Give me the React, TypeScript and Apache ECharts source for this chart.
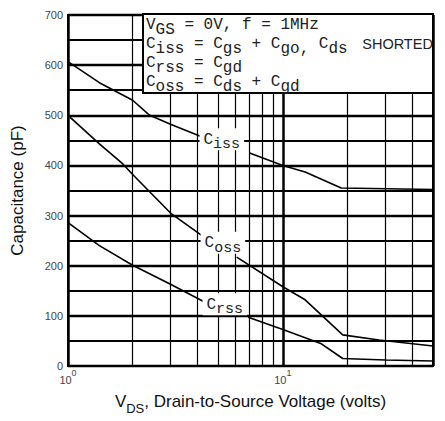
import React, { useEffect, useRef } from "react";
import * as echarts from "echarts";

// Curves (VDS volts, capacitance pF); each curve is split where its label sits
const CISS_A = [[1, 607], [1.4, 565], [2, 530], [2.4, 500], [3, 482], [4.3, 455]];
const CISS_B = [[7, 425], [10, 400], [12.7, 387], [18.7, 355], [50, 352]];
const COSS_A = [[1, 500], [1.4, 443], [1.8, 403], [2, 382], [3, 305], [4.3, 257]];
const COSS_B = [[6.1, 217], [10, 158], [12.7, 132], [19, 62], [28, 52], [50, 40]];
const CRSS_A = [[1, 286], [1.4, 240], [2, 201], [3, 163], [4.3, 128]];
const CRSS_B = [[6.9, 97], [10, 73], [15, 45], [19, 15], [30, 12], [50, 10]];

const MINOR_X = [2, 3, 4, 5, 6, 7, 8, 9, 20, 30, 40];
const Y_MIN = 0, Y_MAX = 700, Y_STEP = 100;
const X_MIN = 1, X_MAX = 50;

const LABELS = [
  { sub: "iss", x: 5.2, y: 452 },
  { sub: "oss", x: 5.26, y: 246 },
  { sub: "rss", x: 5.37, y: 123 },
];

const NOTE_LINES = [
  "{c|V}{s|GS}{c| = 0V, f = 1MHz}",
  "{c|C}{s|iss}{c| = C}{s|gs}{c| + C}{s|go,}{c| C}{s|ds}{c| }{t|SHORTED}",
  "{c|C}{s|rss}{c| = C}{s|gd}",
  "{c|C}{s|oss}{c| = C}{s|ds}{c| + C}{s|gd}",
];

const MONO = "'Liberation Mono', 'DejaVu Sans Mono', monospace";
const SANS = "'Liberation Sans', Arial, sans-serif";

export default function App() {
  const ref = useRef<HTMLDivElement>(null);
  useEffect(() => {
    const chart = echarts.init(ref.current!, null, { renderer: "svg" });
    const lineStyle = { color: "#000", width: 1.6 };
    const seg = (data: number[][], extra: any = {}) => ({
      type: "line",
      data,
      symbol: "none",
      lineStyle,
      silent: true,
      z: 3,
      ...extra,
    });
    chart.setOption({
      animation: false,
      backgroundColor: "#fff",
      grid: {
        left: 68, right: 12, top: 15, bottom: 55,
        show: true, borderColor: "#000", borderWidth: 2,
      },
      xAxis: {
        type: "log", logBase: 10, min: X_MIN, max: X_MAX,
        axisLine: { show: true, lineStyle: { color: "#000", width: 2 } },
        axisTick: { show: false },
        splitLine: { show: true, lineStyle: { color: "#000", width: 2.5 } },
        axisLabel: {
          margin: 3,
          formatter: (v: number) => {
            const e = Math.log10(v);
            if (Math.abs(e - Math.round(e)) > 1e-6) return "";
            return `{b|10}{p|${Math.round(e)}}`;
          },
          rich: {
            b: { fontSize: 11, fontFamily: SANS, color: "#444", lineHeight: 16, verticalAlign: "bottom", height: 10 },
            p: { fontSize: 9, fontFamily: SANS, color: "#444", verticalAlign: "top", height: 8 },
          },
        },
        name: "{m|V}{s|DS}{m|, Drain-to-Source Voltage (volts)}",
        nameLocation: "middle",
        nameGap: 24,
        nameTextStyle: {
          rich: {
            m: { fontSize: 17, fontFamily: SANS, color: "#111", lineHeight: 22, verticalAlign: "middle" },
            s: { fontSize: 13, fontFamily: SANS, color: "#111", height: 8, verticalAlign: "bottom" },
          },
        },
      },
      yAxis: {
        type: "value", min: Y_MIN, max: Y_MAX, interval: Y_STEP,
        axisLine: { show: true, lineStyle: { color: "#000", width: 2 } },
        axisTick: { show: false },
        minorTick: { show: false, splitNumber: 2 },
        splitLine: { show: true, lineStyle: { color: "#000", width: 2.3 } },
        minorSplitLine: { show: true, lineStyle: { color: "#000", width: 1.8 } },
        axisLabel: { fontSize: 11, fontFamily: SANS, color: "#444", margin: 5 },
        name: "Capacitance (pF)",
        nameLocation: "middle",
        nameGap: 42,
        nameTextStyle: { fontSize: 17, fontFamily: SANS, color: "#111" },
      },
      series: [
        seg(CISS_A, {
          markLine: {
            silent: true, symbol: ["none", "none"], label: { show: false },
            z: 2,
            lineStyle: { color: "#000", width: 1.2, type: "solid" },
            data: MINOR_X.map((x) => ({ xAxis: x })),
          },
          markPoint: {
            silent: true,
            z: 9,
            symbol: "circle",
            symbolSize: 1,
            itemStyle: { color: "rgba(0,0,0,0)" },
            label: {
              show: true,
              position: "inside",
              backgroundColor: "#fff",
              padding: [2, 4, 1, 4],
              rich: {
                c: { fontSize: 16, fontFamily: MONO, color: "#222", lineHeight: 19, verticalAlign: "middle" },
                s: { fontSize: 15, fontFamily: MONO, color: "#222", height: 9, verticalAlign: "bottom" },
              },
            },
            data: LABELS.map((l) => ({
              coord: [l.x, l.y],
              value: l.sub,
              label: { formatter: `{c|C}{s|${l.sub}}` },
            })),
          },
        }),
        seg(CISS_B),
        seg(COSS_A),
        seg(COSS_B),
        seg(CRSS_A),
        seg(CRSS_B),
      ],
      graphic: [
        {
          type: "rect",
          shape: { x: 143, y: 14, width: 290, height: 79 },
          style: { fill: "#fff", stroke: "#000", lineWidth: 2 },
          z: 10,
        },
        {
          type: "text",
          x: 146, y: 15,
          z: 11,
          style: {
            text: NOTE_LINES.join("\n"),
            rich: {
              c: { fontSize: 16, fontFamily: MONO, fill: "#222", lineHeight: 19, verticalAlign: "middle" },
              s: { fontSize: 16, fontFamily: MONO, fill: "#222", height: 9, verticalAlign: "bottom" },
              t: { fontSize: 14.5, fontFamily: SANS, fill: "#222", lineHeight: 19, verticalAlign: "middle", padding: [0, 0, 0, 5] },
            },
          },
        },
      ],
    });
    return () => chart.dispose();
  }, []);
  return <div ref={ref} style={{ position: "fixed", left: 0, top: 0, width: 445, height: 421 }} />;
}
